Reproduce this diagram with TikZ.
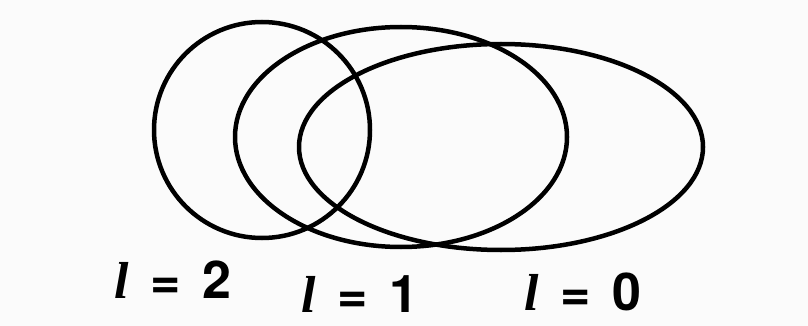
\documentclass[tikz,border=0pt]{standalone}
\usepackage{fontspec}
\setmainfont{TeX Gyre Heros}
\newfontfamily\lfont{Liberation Serif}
\newcommand{\gapsp}{\hspace{0.42em}}
\begin{document}
\begin{tikzpicture}[x=1pt,y=-1pt,
  orb/.style={draw=black,line width=4.5pt},
  lbl/.style={font=\fontsize{52}{52}\selectfont\bfseries,inner sep=0pt,anchor=center}]
\useasboundingbox (0,0) rectangle (808,326);
\fill[white!97!gray] (0,0) rectangle (808,326);
\draw[orb] (262,130) ellipse [x radius=108, y radius=108] coordinate (e2);
\draw[orb] (401,137) ellipse [x radius=166, y radius=110] coordinate (e1);
\draw[orb] (501,147) ellipse [x radius=202, y radius=103] coordinate (e0);
\node[lbl] (l2) at (173,280) {{\lfont\itshape l}\gapsp=\gapsp2};
\node[lbl] (l1) at (360,294) {{\lfont\itshape l}\gapsp=\gapsp1};
\node[lbl] (l0) at (583,292) {{\lfont\itshape l}\gapsp=\gapsp0};
\end{tikzpicture}
\end{document}
